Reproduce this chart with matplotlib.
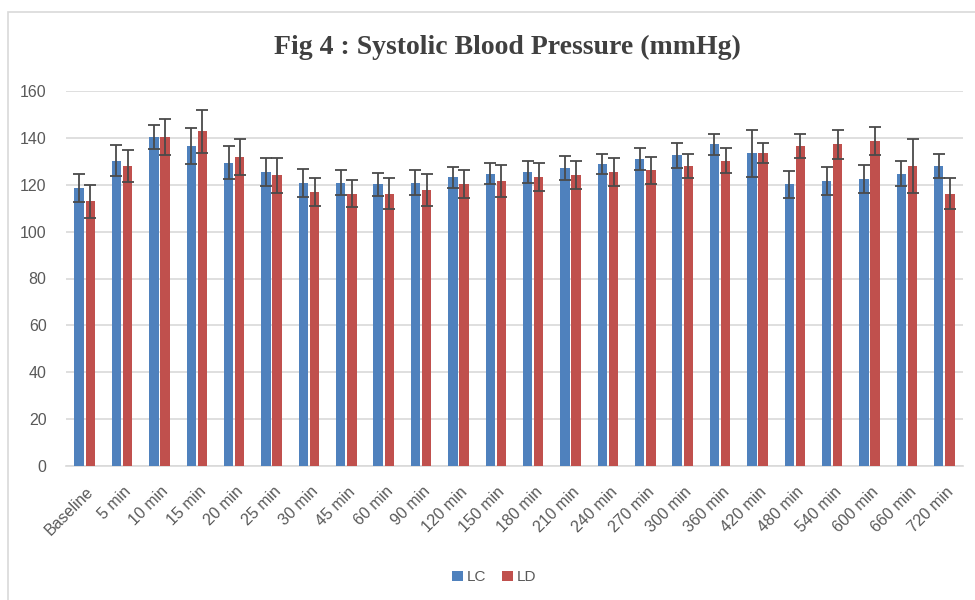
import matplotlib
matplotlib.use("Agg")
import matplotlib.pyplot as plt
import matplotlib.transforms as mtransforms
import numpy as np
from matplotlib.patches import Rectangle

categories = ["Baseline", "5 min", "10 min", "15 min", "20 min", "25 min", "30 min",
              "45 min", "60 min", "90 min", "120 min", "150 min", "180 min", "210 min",
              "240 min", "270 min", "300 min", "360 min", "420 min", "480 min", "540 min",
              "600 min", "660 min", "720 min"]
lc_mean = [118.5, 130.3, 140.4, 136.5, 129.4, 125.4, 120.9, 120.9, 120.2, 120.9, 123.2, 124.7,
           125.4, 127.1, 128.7, 131.0, 132.5, 137.2, 133.4, 120.2, 121.6, 122.4, 124.7, 127.9]
lc_sd = [6.0, 6.7, 5.2, 7.7, 7.0, 6.0, 6.0, 5.4, 5.0, 5.2, 4.5, 4.4,
         4.6, 5.2, 4.3, 4.7, 5.2, 4.4, 9.9, 5.7, 6.0, 6.0, 5.3, 5.1]
ld_mean = [112.9, 127.9, 140.4, 142.8, 131.8, 124.0, 116.9, 116.2, 116.2, 117.6, 120.2, 121.6,
           123.2, 124.0, 125.4, 126.1, 127.9, 130.3, 133.4, 136.5, 137.2, 138.8, 127.9, 116.2]
ld_sd = [7.0, 6.8, 7.6, 9.2, 7.7, 7.5, 6.0, 5.8, 6.7, 6.8, 6.0, 6.8,
         5.9, 6.0, 6.1, 5.7, 5.1, 5.2, 4.3, 5.1, 6.0, 5.9, 11.6, 6.7]
series_names = ["LC", "LD"]
yticks = [0, 20, 40, 60, 80, 100, 120, 140, 160]

blue = "#4F81BD"
red = "#C0504D"
txt = "#595959"

fig = plt.figure(figsize=(9.75, 6.0), dpi=100)
ax = fig.add_axes([66/975, 1-466/600, (963-66)/975, (466-91)/600])

x = np.arange(len(categories))
w = 0.25
off = 0.15
ekw = dict(ecolor="#4a4a4a", elinewidth=1.3, capsize=4, capthick=1.3)
b1 = ax.bar(x - off, lc_mean, w, yerr=lc_sd, color=blue, label=series_names[0],
            error_kw=ekw, zorder=3)
b2 = ax.bar(x + off, ld_mean, w, yerr=ld_sd, color=red, label=series_names[1],
            error_kw=ekw, zorder=3)

ax.set_ylim(0, 160)
ax.set_xlim(-0.5, len(categories) - 0.5)
ax.set_yticks(yticks)
ax.yaxis.grid(True, color="#D9D9D9", linewidth=1.2, zorder=0)
ax.set_axisbelow(True)
for s in ["top", "right", "left"]:
    ax.spines[s].set_visible(False)
ax.spines["bottom"].set_color("#D9D9D9")
ax.spines["bottom"].set_linewidth(1.2)
ax.tick_params(axis="both", length=0, colors=txt, labelsize=11.5)
ax.tick_params(axis="y", pad=14)
ax.tick_params(axis="x", pad=13)
ax.set_xticks(x)
ax.set_xticklabels(categories, rotation=45, ha="right", rotation_mode="anchor",
                   fontfamily="Liberation Sans")
shift = mtransforms.ScaledTranslation(1/72, 0, fig.dpi_scale_trans)
for lab in ax.get_xticklabels():
    lab.set_transform(lab.get_transform() + shift)
for lab in ax.get_yticklabels():
    lab.set_fontfamily("Liberation Sans")

fig.text(0.52, 0.921, "Fig 4 : Systolic Blood Pressure (mmHg)", ha="center", va="center",
         fontsize=20, fontweight="bold", family="Liberation Serif", color="#404040")

leg = fig.legend(handles=[b1, b2], labels=series_names, loc="center",
                 bbox_to_anchor=(0.507, 0.038), ncol=2, frameon=False,
                 handlelength=0.7, handleheight=0.7, handletextpad=0.3, columnspacing=1.0,
                 prop={"family": "Liberation Sans", "size": 11})
for t in leg.get_texts():
    t.set_color(txt)

fig.patches.append(Rectangle((8/975, -0.05), 1.2, 1 - 12/600 + 0.05, transform=fig.transFigure,
                             fill=False, edgecolor="#D9D9D9", linewidth=1.2))

fig.savefig("out.png", dpi=100)
